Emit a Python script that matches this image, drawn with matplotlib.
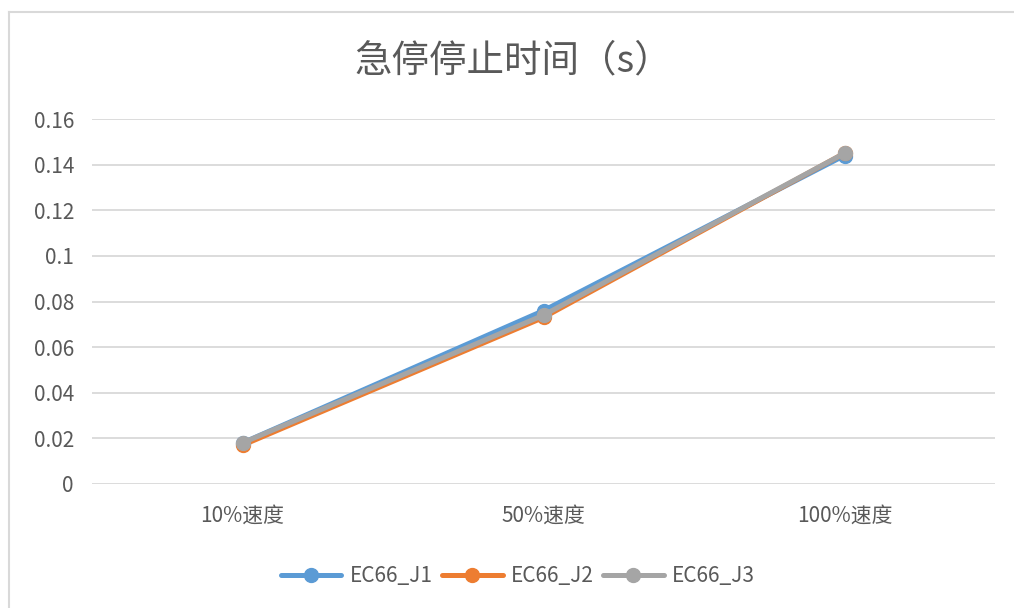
import matplotlib.pyplot as plt
from matplotlib.lines import Line2D

plt.rcParams['font.family'] = ['Noto Sans CJK SC', 'DejaVu Sans']

categories = ['10%速度', '50%速度', '100%速度']
j1 = [0.018, 0.076, 0.144]
j2 = [0.017, 0.073, 0.145]
j3 = [0.018, 0.074, 0.145]
series_names = ['EC66_J1', 'EC66_J2', 'EC66_J3']
colors = ['#5B9BD5', '#ED7D31', '#A5A5A5']
yticks = [0, 0.02, 0.04, 0.06, 0.08, 0.1, 0.12, 0.14, 0.16]
ytick_labels = ['0', '0.02', '0.04', '0.06', '0.08', '0.1', '0.12', '0.14', '0.16']

fig = plt.figure(figsize=(10.14, 6.08), dpi=100)
ax = fig.add_axes([92 / 1014, 1 - 484 / 608, (995 - 92) / 1014, (484 - 119) / 608])

# chart area border (top and left visible)
fig.add_artist(Line2D([9 / 1014, 9 / 1014], [0, 1 - 12 / 608], color='#d9d9d9', lw=1.5))
fig.add_artist(Line2D([9 / 1014, 1], [1 - 12 / 608, 1 - 12 / 608], color='#d9d9d9', lw=1.5))

x = range(len(categories))
for vals, name, c in zip([j1, j2, j3], series_names, colors):
    ax.plot(x, vals, color=c, lw=3.6, marker='o', markersize=10,
            solid_capstyle='round', label=name)

ax.set_xlim(-0.5, 2.5)
ax.set_ylim(0, 0.16)
ax.set_yticks(yticks)
ax.set_yticklabels(ytick_labels)
ax.set_xticks(list(x))
ax.set_xticklabels(categories)
ax.grid(axis='y', color='#d9d9d9', lw=1.3)
ax.set_axisbelow(True)
for s in ax.spines.values():
    s.set_visible(False)
ax.tick_params(axis='both', length=0, labelsize=15, colors='#595959')
ax.tick_params(axis='y', pad=13)
ax.tick_params(axis='x', pad=15)

fig.text(513 / 1014, 1 - 61 / 608, '急停停止时间（s）', ha='center', va='center',
         fontsize=27, color='#595959')

fig.legend(loc='center', bbox_to_anchor=(518 / 1014, 1 - 576 / 608), ncol=3,
           frameon=False, fontsize=15, labelcolor='#595959', handlelength=2.9,
           columnspacing=0.45, handletextpad=0.4)

fig.savefig('out.png', dpi=100, facecolor='white')
